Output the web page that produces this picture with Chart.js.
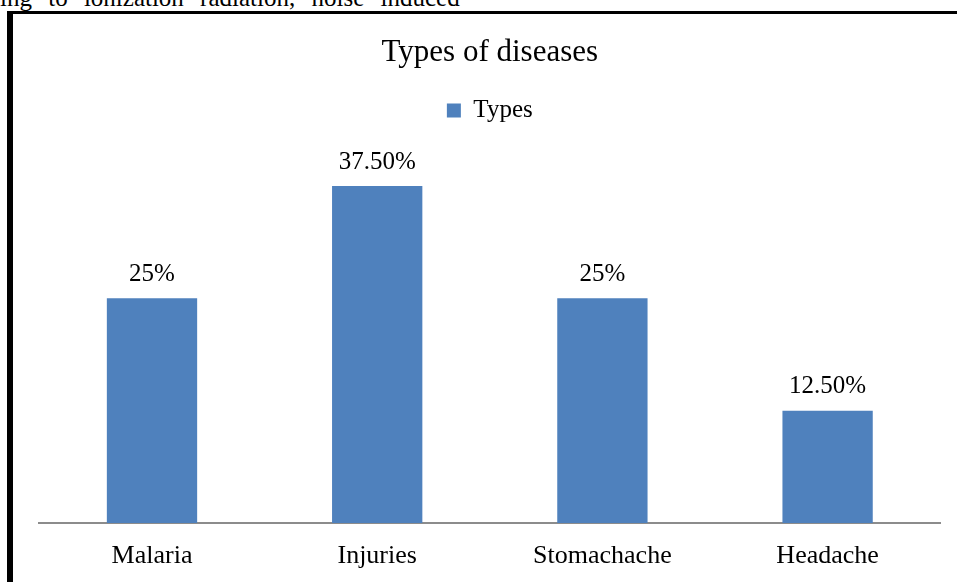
<!DOCTYPE html>
<html>
<head>
<meta charset="utf-8">
<script src="https://cdn.jsdelivr.net/npm/chart.js@4/dist/chart.umd.min.js"></script>
<style>
  html, body { margin: 0; padding: 0; background: #fff; }
  body { width: 957px; height: 582px; position: relative; overflow: hidden; font-family: 'Liberation Serif', serif; }
  #lead { position: absolute; left: 0; top: -15px; font-size: 25px; line-height: 25px; white-space: nowrap; word-spacing: 10px; color: #000; }
  #frame { position: absolute; left: 7px; top: 11px; right: 0; bottom: 0; border-left: 6px solid #000; border-top: 3px solid #000; }
  #wrap { position: absolute; left: 0; top: 0; width: 957px; height: 582px; }
</style>
</head>
<body>
<div id="lead">ing to ionization radiation, noise induced</div>
<div id="frame"></div>
<div id="wrap"><canvas id="c" width="957" height="582"></canvas></div>
<script>
// chart data
const categories = ['Malaria', 'Injuries', 'Stomachache', 'Headache'];
const typeValues = [25, 37.5, 25, 12.5];
const valueLabels = ['25%', '37.50%', '25%', '12.50%'];

const SERIF = "'Liberation Serif', 'Times New Roman', serif";
const BAR = '#4F81BD';

/** Draw the value labels above each bar */
const barLabels = {
  id: 'barLabels',
  afterDatasetsDraw(chart) {
    const ctx = chart.ctx;
    const meta = chart.getDatasetMeta(0);
    ctx.save();
    ctx.font = '25px ' + SERIF;
    ctx.fillStyle = '#000';
    ctx.textAlign = 'center';
    ctx.textBaseline = 'middle';
    meta.data.forEach((bar, i) => {
      ctx.fillText(valueLabels[i], bar.x, bar.y - 24);
    });
    ctx.restore();
  }
};

new Chart(document.getElementById('c'), {
  type: 'bar',
  data: {
    labels: categories,
    datasets: [{
      label: 'Types',
      data: typeValues,
      backgroundColor: BAR,
      borderWidth: 0,
      barPercentage: 0.401,
      categoryPercentage: 1
    }]
  },
  options: {
    responsive: false,
    animation: false,
    layout: { padding: { left: 39.4, right: 16.8, top: 0, bottom: -7 } },
    scales: {
      x: {
        grid: { display: false, drawTicks: false },
        border: { display: true, color: '#8c8c8c', width: 2 },
        ticks: { color: '#000', padding: 17.4, font: { family: SERIF, size: 26 } }
      },
      y: { display: false, min: 0, max: 43.4 }
    },
    plugins: {
      title: {
        display: true,
        text: 'Types of diseases',
        color: '#000',
        font: { family: SERIF, size: 31, weight: 'normal' },
        padding: { top: 34.4, bottom: 5.4 }
      },
      legend: {
        position: 'top',
        labels: { color: '#000', boxWidth: 14, boxHeight: 14, padding: 21, font: { family: SERIF, size: 25 } }
      },
      tooltip: { enabled: false }
    }
  },
  plugins: [barLabels]
});
</script>
</body>
</html>
